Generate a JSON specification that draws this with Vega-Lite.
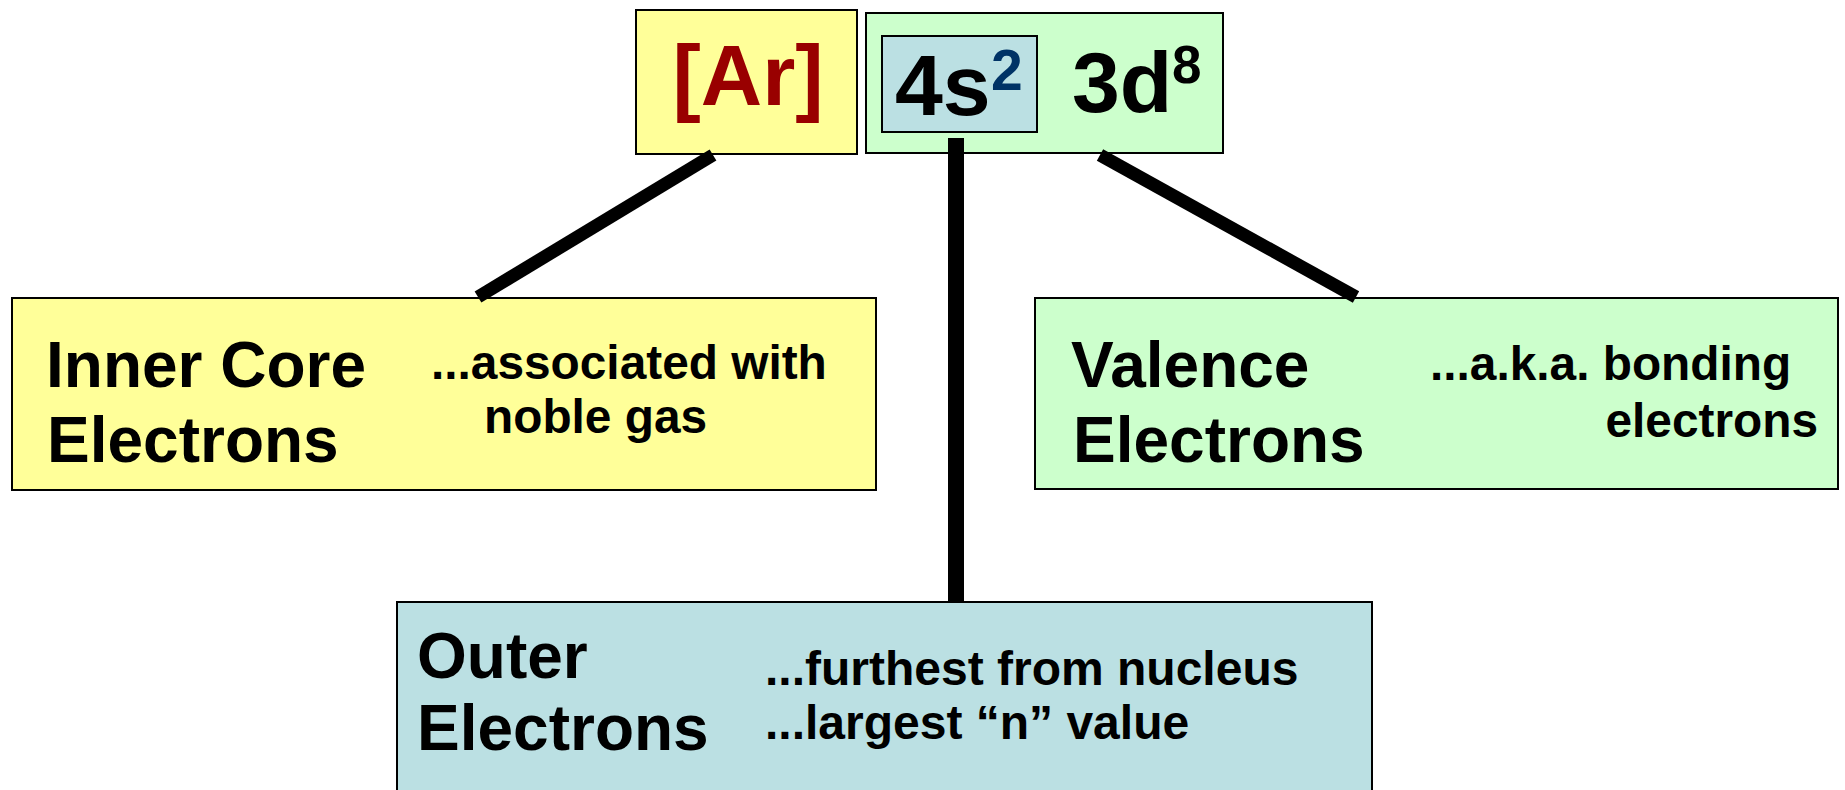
{
  "$schema": "https://vega.github.io/schema/vega-lite/v6.json",
  "width": 1845,
  "height": 790,
  "padding": 0,
  "autosize": {"type": "none"},
  "background": "white",
  "config": {"view": {"stroke": null}},
  "datasets": {
    "boxes": [
      {"name": "Ar", "x": 636, "x2": 857, "y": 10, "y2": 154, "fill": "#FFFF99"},
      {"name": "config", "x": 866, "x2": 1223, "y": 13, "y2": 153, "fill": "#CCFFCC"},
      {"name": "4s", "x": 882, "x2": 1037, "y": 36, "y2": 132, "fill": "#BBE0E3"},
      {"name": "inner", "x": 12, "x2": 876, "y": 298, "y2": 490, "fill": "#FFFF99"},
      {"name": "valence", "x": 1035, "x2": 1838, "y": 298, "y2": 489, "fill": "#CCFFCC"},
      {"name": "outer", "x": 397, "x2": 1372, "y": 602, "y2": 796, "fill": "#BBE0E3"}
    ],
    "links": [
      {"x": 713, "y": 155, "x2": 478, "y2": 297, "w": 13},
      {"x": 1100, "y": 155, "x2": 1356, "y2": 297, "w": 13},
      {"x": 956, "y": 138, "x2": 956, "y2": 602, "w": 16}
    ],
    "labels": [
      {"text": "[Ar]", "x": 748, "y": 105, "fs": 85, "color": "#990000", "anchor": "center"},
      {"text": "4s", "x": 895, "y": 115, "fs": 86, "color": "#000000", "anchor": "left"},
      {"text": "2", "x": 991, "y": 90, "fs": 57, "color": "#003366", "anchor": "left"},
      {"text": "3d", "x": 1072, "y": 112, "fs": 86, "color": "#000000", "anchor": "left"},
      {"text": "8", "x": 1172, "y": 83, "fs": 53, "color": "#000000", "anchor": "left"},
      {"text": "Inner Core", "x": 46, "y": 387, "fs": 64, "color": "#000000", "anchor": "left"},
      {"text": "Electrons", "x": 47, "y": 462, "fs": 64, "color": "#000000", "anchor": "left"},
      {"text": "...associated with", "x": 431, "y": 379, "fs": 47.8, "color": "#000000", "anchor": "left"},
      {"text": "noble gas", "x": 484, "y": 433, "fs": 47.8, "color": "#000000", "anchor": "left"},
      {"text": "Valence", "x": 1071, "y": 387, "fs": 64, "color": "#000000", "anchor": "left"},
      {"text": "Electrons", "x": 1073, "y": 462, "fs": 64, "color": "#000000", "anchor": "left"},
      {"text": "...a.k.a. bonding", "x": 1430, "y": 380, "fs": 47.8, "color": "#000000", "anchor": "left"},
      {"text": "electrons", "x": 1818, "y": 437, "fs": 47.8, "color": "#000000", "anchor": "right"},
      {"text": "Outer", "x": 417, "y": 678, "fs": 64, "color": "#000000", "anchor": "left"},
      {"text": "Electrons", "x": 417, "y": 750, "fs": 64, "color": "#000000", "anchor": "left"},
      {"text": "...furthest from nucleus", "x": 765, "y": 685, "fs": 48, "color": "#000000", "anchor": "left"},
      {"text": "...largest \u201cn\u201d value", "x": 765, "y": 739, "fs": 48, "color": "#000000", "anchor": "left"}
    ]
  },
  "layer": [
    {
      "data": {"name": "boxes"},
      "mark": {"type": "rect", "stroke": "#000000", "strokeWidth": 2},
      "encoding": {
        "x": {"field": "x", "type": "quantitative", "scale": {"domain": [0, 1845], "nice": false, "zero": false}, "axis": null},
        "x2": {"field": "x2"},
        "y": {"field": "y", "type": "quantitative", "scale": {"domain": [0, 790], "reverse": true, "nice": false, "zero": false}, "axis": null},
        "y2": {"field": "y2"},
        "fill": {"field": "fill", "type": "nominal", "scale": null}
      }
    },
    {
      "data": {"name": "links"},
      "mark": {"type": "rule", "color": "#000000", "strokeCap": "butt"},
      "encoding": {
        "x": {"field": "x", "type": "quantitative"},
        "x2": {"field": "x2"},
        "y": {"field": "y", "type": "quantitative"},
        "y2": {"field": "y2"},
        "strokeWidth": {"field": "w", "type": "quantitative", "scale": null, "legend": null}
      }
    },
    {
      "data": {"name": "labels"},
      "transform": [{"filter": "datum.anchor === 'left'"}],
      "mark": {"type": "text", "align": "left", "baseline": "alphabetic", "font": "Liberation Sans", "fontWeight": "bold"},
      "encoding": {
        "x": {"field": "x", "type": "quantitative"},
        "y": {"field": "y", "type": "quantitative"},
        "text": {"field": "text"},
        "size": {"field": "fs", "type": "quantitative", "scale": null, "legend": null},
        "color": {"field": "color", "type": "nominal", "scale": null, "legend": null}
      }
    },
    {
      "data": {"name": "labels"},
      "transform": [{"filter": "datum.anchor === 'center'"}],
      "mark": {"type": "text", "align": "center", "baseline": "alphabetic", "font": "Liberation Sans", "fontWeight": "bold"},
      "encoding": {
        "x": {"field": "x", "type": "quantitative"},
        "y": {"field": "y", "type": "quantitative"},
        "text": {"field": "text"},
        "size": {"field": "fs", "type": "quantitative", "scale": null, "legend": null},
        "color": {"field": "color", "type": "nominal", "scale": null, "legend": null}
      }
    },
    {
      "data": {"name": "labels"},
      "transform": [{"filter": "datum.anchor === 'right'"}],
      "mark": {"type": "text", "align": "right", "baseline": "alphabetic", "font": "Liberation Sans", "fontWeight": "bold"},
      "encoding": {
        "x": {"field": "x", "type": "quantitative"},
        "y": {"field": "y", "type": "quantitative"},
        "text": {"field": "text"},
        "size": {"field": "fs", "type": "quantitative", "scale": null, "legend": null},
        "color": {"field": "color", "type": "nominal", "scale": null, "legend": null}
      }
    }
  ]
}
